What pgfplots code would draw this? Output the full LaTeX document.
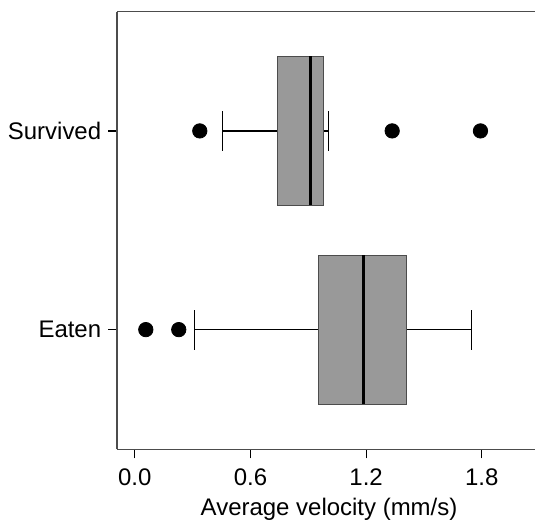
\documentclass[border=0pt]{standalone}
\usepackage{fontspec}
\setmainfont{Liberation Sans}
\usepackage{pgfplots}
\pgfplotsset{compat=1.18}
\usepgfplotslibrary{statistics}
\definecolor{boxgray}{gray}{0.6}
\definecolor{linegray}{gray}{0.3}

\begin{document}
\begin{tikzpicture}
\begin{axis}[
  scale only axis,
  width=209.4pt, height=219.2pt,
  xmin=-0.0917, xmax=2.0777,
  ymin=0.397, ymax=2.6,
  axis lines*=left,
  axis line style={linegray, line width=0.65pt},
  xtick={0,0.6,1.2,1.8},
  xticklabels={0.0,0.6,1.2,1.8},
  ytick={1,2},
  yticklabels={Eaten,Survived},
  tick align=outside,
  major tick length=4.5pt,
  tick style={black, line width=0.6pt},
  ticklabel style={font=\fontsize{12}{14}\selectfont},
  xticklabel style={yshift=-1.7pt},
  yticklabel style={inner sep=3.3pt},
  /pgf/number format/assume math mode=true,
  xlabel={Average velocity (mm/s)},
  xlabel style={font=\fontsize{12}{14}\selectfont,
    at={(rel axis cs:0.5,0)}, anchor=base, yshift=-33pt, xshift=1.4pt},
  boxplot/draw direction=x,
  boxplot/every box/.style={draw=linegray, fill=boxgray, line width=0.5pt},
  boxplot/every median/.style={black, line width=1.35pt},
  boxplot/every whisker/.style={black, line width=0.65pt},
  clip=false,
]
  % Survived
  \addplot[boxplot prepared={draw position=2,
      lower whisker=0.454, lower quartile=0.7425, median=0.910,
      upper quartile=0.979, upper whisker=1.004,
      box extend=0.75, whisker extend=0.2},
    mark=*, mark size=3.6pt, mark options={black, fill=black}]
    table[row sep=\\, y index=0] {v\\ 0.337\\ 1.335\\ 1.793\\};
  % Eaten
  \addplot[boxplot prepared={draw position=1,
      lower whisker=0.311, lower quartile=0.953, median=1.187,
      upper quartile=1.409, upper whisker=1.746,
      box extend=0.75, whisker extend=0.2},
    mark=*, mark size=3.6pt, mark options={black, fill=black}]
    table[row sep=\\, y index=0] {v\\ 0.057\\ 0.228\\};
  \draw[linegray, line width=0.65pt] (rel axis cs:0,1) -- (rel axis cs:1,1);
  % margins as in the reference
  \path (rel axis cs:0,1) ++(-58.65pt,5.85pt) coordinate (tl);
  \path (rel axis cs:1,0) ++(0pt,-38.5pt) coordinate (br);
  \path (tl) rectangle (br);
\end{axis}
\end{tikzpicture}
\end{document}
